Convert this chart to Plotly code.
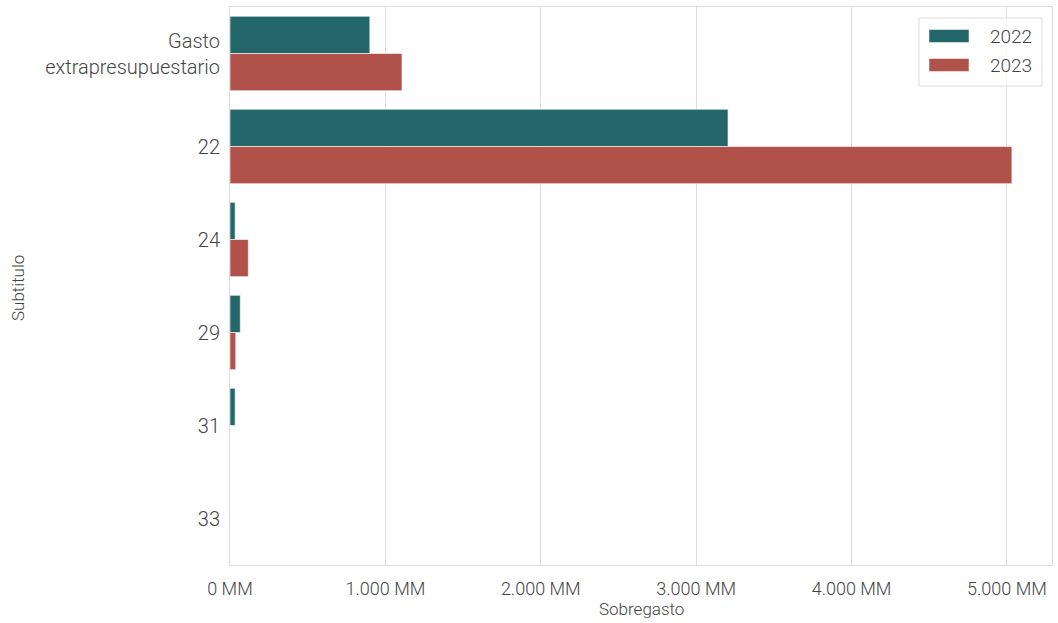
import plotly.graph_objects as go

categories = ["Gasto<br>extrapresupuestario", "22", "24", "29", "31", "33"]
series_names = ["2022", "2023"]
values_2022 = [900, 3205, 33, 66, 33, 0]
values_2023 = [1107, 5032, 118, 37, 0, 0]
tick_values = [0, 1000, 2000, 3000, 4000, 5000]
tick_labels = ["0 MM", "1.000 MM", "2.000 MM", "3.000 MM", "4.000 MM", "5.000 MM"]

colors = ["#24676a", "#b0524a"]
font_family = "Roboto"
text_color = "#444444"

W, H = 1058, 623
L, R, T, B = 230, 6, 7, 58
PW, PH = W - L - R, H - T - B


def px(x):
    return (x - L) / PW


def py(y):
    return 1 - (y - T) / PH


fig = go.Figure()
for name, vals, col in zip(series_names, [values_2022, values_2023], colors):
    fig.add_trace(go.Bar(
        y=categories, x=vals, name=name, orientation="h",
        marker=dict(color=col, line=dict(color="rgba(255,255,255,0.6)", width=1)),
        showlegend=False,
    ))

# custom legend (box + wide patches + labels)
shapes = [dict(type="rect", xref="paper", yref="paper",
               x0=px(919), x1=px(1042), y0=py(86), y1=py(18),
               line=dict(color="#dddddd", width=1), fillcolor="rgba(255,255,255,0.8)", layer="above")]
annotations = []
for i, (name, col) in enumerate(zip(series_names, colors)):
    yc = 36 + i * 29
    shapes.append(dict(type="rect", xref="paper", yref="paper",
                       x0=px(929), x1=px(969), y0=py(yc + 6.5), y1=py(yc - 6.5),
                       line=dict(color="rgba(255,255,255,0.5)", width=1), fillcolor=col, layer="above"))
    annotations.append(dict(text=name, xref="paper", yref="paper", x=px(1034), y=py(yc),
                            xanchor="right", yanchor="middle", showarrow=False,
                            font=dict(size=19, color=text_color, family=font_family, weight=300)))

annotations.append(dict(text="Sobregasto", xref="paper", yref="paper", x=0.5, y=py(609),
                        xanchor="center", yanchor="middle", showarrow=False,
                        font=dict(size=17, color=text_color, family=font_family, weight=300)))
annotations.append(dict(text="Subtitulo", xref="paper", yref="paper", x=px(18), y=py(288),
                        xanchor="center", yanchor="middle", showarrow=False, textangle=-90,
                        font=dict(size=17, color=text_color, family=font_family, weight=300)))

fig.update_layout(
    width=W, height=H,
    margin=dict(l=L, r=R, t=T, b=B, autoexpand=False),
    paper_bgcolor="white", plot_bgcolor="white",
    barmode="group", bargap=0.2, bargroupgap=0,
    font=dict(family=font_family, size=19, color=text_color, weight=300),
    showlegend=False,
    shapes=shapes, annotations=annotations,
)
fig.update_xaxes(
    range=[0, 5290], tickvals=tick_values, ticktext=tick_labels,
    showgrid=True, gridcolor="#dddddd", gridwidth=1,
    showline=True, linecolor="#dddddd", linewidth=1, mirror=True,
    zeroline=False, ticks="", ticklen=0, automargin=False,
    ticklabelstandoff=7,
    tickfont=dict(size=18, color=text_color, family=font_family, weight=300),
)
fig.update_yaxes(
    categoryorder="array", categoryarray=categories,
    range=[5.5, -0.5],
    showgrid=False, showline=True, linecolor="#dddddd", linewidth=1, mirror=True,
    ticks="", ticklen=0, automargin=False,
    ticklabelstandoff=5,
    tickfont=dict(size=20, color=text_color, family=font_family, weight=300),
)

fig.write_html("out.html", config={"displayModeBar": False},
               post_script="document.body.style.margin='0';document.body.style.padding='0';")
